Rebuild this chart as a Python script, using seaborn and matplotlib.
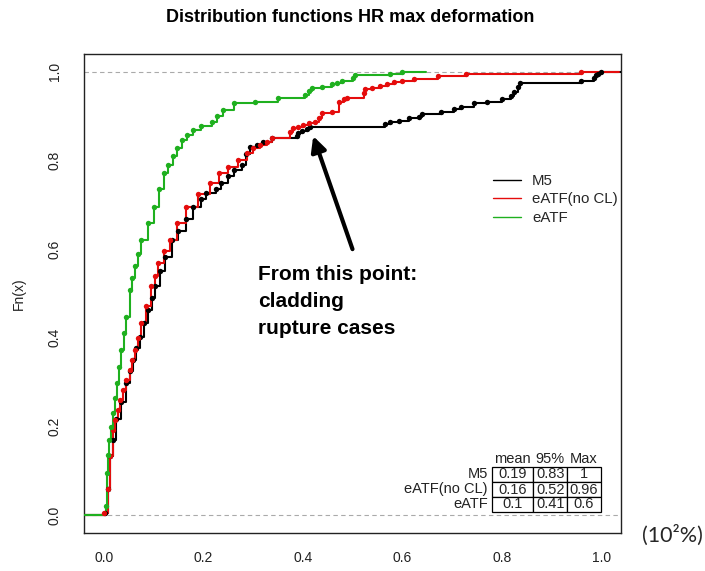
import matplotlib
matplotlib.use("Agg")
import matplotlib.pyplot as plt
from matplotlib.lines import Line2D
import seaborn as sns

# knots of the three empirical distribution functions (x in 10^2 %, Fn(x))
m5_x = [0.002, 0.008, 0.0128, 0.018, 0.025, 0.035, 0.045, 0.052, 0.0585, 0.065,
        0.072, 0.080, 0.089, 0.096, 0.102, 0.112, 0.1225, 0.136, 0.150, 0.165,
        0.180, 0.195, 0.206, 0.225, 0.235, 0.250, 0.262, 0.277, 0.285, 0.294,
        0.307, 0.321, 0.338, 0.388, 0.391, 0.398, 0.408, 0.415, 0.566, 0.576,
        0.593, 0.613, 0.633, 0.640, 0.677, 0.704, 0.718, 0.744, 0.770, 0.800,
        0.818, 0.825, 0.832, 0.837, 0.960, 0.986, 0.990, 0.994, 1.000]
m5_f = [0.005, 0.06, 0.133, 0.17, 0.216, 0.255, 0.298, 0.325, 0.351, 0.378,
        0.403, 0.433, 0.463, 0.49, 0.516, 0.55, 0.583, 0.621, 0.64, 0.668,
        0.696, 0.712, 0.726, 0.735, 0.75, 0.765, 0.778, 0.79, 0.815, 0.831,
        0.835, 0.842, 0.851, 0.856, 0.861, 0.867, 0.871, 0.876, 0.882, 0.887,
        0.890, 0.895, 0.899, 0.905, 0.910, 0.915, 0.921, 0.929, 0.932, 0.938,
        0.945, 0.955, 0.965, 0.974, 0.978, 0.985, 0.992, 0.996, 1.0]

nocl_x = [0.000, 0.008, 0.0115, 0.018, 0.023, 0.028, 0.033, 0.038, 0.045, 0.052,
          0.057, 0.062, 0.068, 0.075, 0.0855, 0.0956, 0.102, 0.109, 0.120, 0.1325,
          0.148, 0.165, 0.190, 0.213, 0.232, 0.250, 0.269, 0.287, 0.300, 0.314,
          0.328, 0.338, 0.375, 0.381, 0.391, 0.401, 0.412, 0.425, 0.432, 0.439,
          0.459, 0.472, 0.482, 0.489, 0.523, 0.526, 0.539, 0.556, 0.570, 0.583,
          0.600, 0.623, 0.671, 0.728, 0.960]
nocl_f = [0.004, 0.06, 0.133, 0.193, 0.215, 0.238, 0.26, 0.283, 0.305, 0.328,
          0.35, 0.373, 0.40, 0.433, 0.471, 0.516, 0.54, 0.568, 0.595, 0.621,
          0.66, 0.696, 0.725, 0.749, 0.771, 0.785, 0.80, 0.816, 0.827, 0.835,
          0.842, 0.851, 0.865, 0.873, 0.876, 0.88, 0.884, 0.887, 0.895, 0.906,
          0.91, 0.932, 0.938, 0.94, 0.951, 0.96, 0.963, 0.968, 0.972, 0.977,
          0.98, 0.983, 0.99, 0.995, 1.0]

eatf_x = [0.004, 0.006, 0.008, 0.010, 0.014, 0.018, 0.022, 0.026, 0.030, 0.035,
          0.040, 0.045, 0.052, 0.057, 0.062, 0.068, 0.0755, 0.088, 0.101, 0.110,
          0.120, 0.129, 0.139, 0.148, 0.157, 0.168, 0.180, 0.195, 0.217, 0.228,
          0.240, 0.262, 0.304, 0.351, 0.405, 0.412, 0.418, 0.438, 0.459, 0.469,
          0.479, 0.502, 0.506, 0.576, 0.600]
eatf_f = [0.02, 0.095, 0.135, 0.17, 0.20, 0.23, 0.265, 0.298, 0.335, 0.373,
          0.41, 0.448, 0.508, 0.535, 0.561, 0.59, 0.621, 0.66, 0.696, 0.735,
          0.771, 0.79, 0.809, 0.828, 0.846, 0.858, 0.869, 0.878, 0.887, 0.90,
          0.914, 0.929, 0.932, 0.941, 0.948, 0.957, 0.963, 0.966, 0.972, 0.975,
          0.98, 0.987, 0.993, 0.995, 1.0]

series_names = ['M5', 'eATF(no CL)', 'eATF']
series_colors = ['black', '#e50c0c', '#1fb01f']

# summary table
table_cols = ['mean', '95%', 'Max']
table_cells = [['0.19', '0.83', '1'],
               ['0.16', '0.52', '0.96'],
               ['0.1', '0.41', '0.6']]

sns.set_style('white')
plt.rcParams['font.family'] = ['Liberation Sans', 'DejaVu Sans']

fig = plt.figure(figsize=(7.05, 5.71), dpi=100)
ax = fig.add_axes([84 / 705, 1 - 533 / 571, 537 / 705, 479 / 571])

ax.axhline(0, color='#aaaaaa', ls=(0, (4, 3)), lw=0.8, zorder=1)
ax.axhline(1, color='#aaaaaa', ls=(0, (4, 3)), lw=0.8, zorder=1)

# draw like R's plot.ecdf: steps, a dot on every knot, tails extended by 8% of range
for xs, fs, col in [(m5_x, m5_f, series_colors[0]),
                    (nocl_x, nocl_f, series_colors[1]),
                    (eatf_x, eatf_f, series_colors[2])]:
    ext = 0.08 * (xs[-1] - xs[0])
    sns.lineplot(x=[xs[0] - ext] + xs + [xs[-1] + ext], y=[0] + fs + [1],
                 drawstyle='steps-post', color=col, lw=1.5, ax=ax, zorder=3)
    sns.scatterplot(x=xs, y=fs, color=col, s=15, linewidth=0, ax=ax, zorder=4)

ax.set_xlim(-0.04, 1.04)
ax.set_ylim(-0.04, 1.04)
ax.set_xticks([0, 0.2, 0.4, 0.6, 0.8, 1.0])
ax.set_yticks([0, 0.2, 0.4, 0.6, 0.8, 1.0])
ax.set_xticklabels(['0.0', '0.2', '0.4', '0.6', '0.8', '1.0'])
ax.set_yticklabels(['0.0', '0.2', '0.4', '0.6', '0.8', '1.0'], rotation=90, va='center')
ax.tick_params(direction='out', length=7, width=0.8, labelsize=10, color='#333333',
               labelcolor='#222222')
ax.tick_params(axis='x', pad=6)
ax.tick_params(axis='y', pad=9)
ax.set_xlabel('')
ax.set_ylabel('Fn(x)', fontsize=10, color='#222222', labelpad=16)
for sp in ax.spines.values():
    sp.set_color('#222222')
    sp.set_linewidth(1.0)

fig.text(350 / 705, 1 - 17 / 571, 'Distribution functions HR max deformation',
         ha='center', va='center', fontsize=13, fontweight='bold', color='black')

handles = [Line2D([], [], color=c, lw=1) for c in series_colors]
ax.legend(handles, series_names, loc='center left', bbox_to_anchor=(0.7616, 0.6967),
          frameon=False, fontsize=10.8, handlelength=1.9, handletextpad=0.7,
          labelspacing=0.3, borderpad=0, borderaxespad=0)

# annotation
ax.annotate('', xy=(0.421, 0.855), xytext=(0.50, 0.60),
            arrowprops=dict(arrowstyle='-|>,head_length=0.9,head_width=0.45',
                            color='black', lw=3, shrinkA=0, shrinkB=0))
ax.text(0.31, 0.565, 'From this point:\ncladding\nrupture cases', fontsize=15,
        fontweight='bold', color='black', ha='left', va='top', linespacing=1.55)

# table of statistics
tab = ax.table(cellText=table_cells, cellLoc='center',
               colWidths=[0.38, 0.31, 0.31],
               bbox=[(491.7 - 84) / 537, (533 - 512) / 479, 109.3 / 537, 45 / 479])
tab.auto_set_font_size(False)
tab.set_fontsize(10.5)
for cell in tab.get_celld().values():
    cell.set_linewidth(0.9)
    cell.set_facecolor('white')
col_centers = [512, 550, 584]
for name, cx in zip(table_cols, col_centers):
    ax.text((cx - 84) / 537, (533 - 459) / 479, name, transform=ax.transAxes,
            ha='center', va='center', fontsize=10.5, color='#222222')
for i, name in enumerate(series_names):
    ax.text((488 - 84) / 537, (533 - 474.5 - 15 * i) / 479, name, transform=ax.transAxes,
            ha='right', va='center', fontsize=10.5, color='#222222')

fig.text(642 / 705, 1 - 535 / 571, '(10²%)', ha='left', va='center', fontsize=15.5,
         family=['Lato', 'DejaVu Sans'])

fig.savefig('out.png', dpi=100)
